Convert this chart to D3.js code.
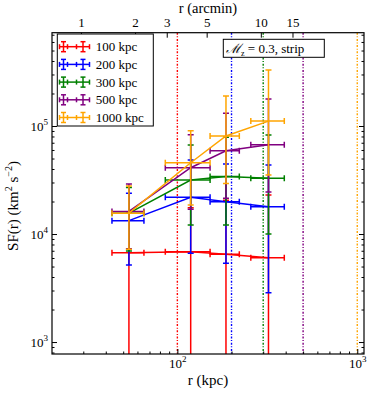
<!DOCTYPE html>
<html>
<head>
<meta charset="utf-8">
<script src="https://cdn.jsdelivr.net/npm/d3@7"></script>
<style>
  body { margin: 0; background: #fff; }
  text { font-family: "Liberation Serif", "DejaVu Serif", serif; }
</style>
</head>
<body>
<div id="chart"></div>
<script>
// series: outer radius of the region (kpc)
const labels = ["100 kpc", "200 kpc", "300 kpc", "500 kpc", "1000 kpc"];
const rCut = [100, 200, 300, 500, 1000];
const colors = ["red", "blue", "green", "purple", "orange"];

// separation bins (kpc)
const rMid = [53.8, 118.6, 186.3, 321];
const rLo = [43.3, 85.7, 152, 256];
const rHi = [65.2, 152, 221, 393];

// SF values and error bounds (km^2 s^-2), null = below the axis
const sf100 = [6710, 6860, 6490, 6040];
const hi100 = [15600, 17500, 20600, 23000];
const lo100 = [null, null, null, null];
const sf200 = [13300, 21900, 19900, 17900];
const hi200 = [23800, 48400, 44500, 43600];
const lo200 = [5160, 6630, 5360, 2860];
const sf300 = [15600, 31600, 34000, 32800];
const hi300 = [27000, 66700, 78600, 82600];
const lo300 = [6970, 12100, 12100, 10000];
const sf500 = [16200, 41100, 59000, 67100];
const hi500 = [29000, 83000, 131000, 178000];
const lo500 = [7310, 17000, 21400, 24500];
const sf1000 = [15600, 45700, 80800, 111000];
const hi1000 = [27800, 90400, 190000, 330000];
const lo1000 = [7220, 18600, 29400, 35200];

const topTicks = [1, 2, 3, 5, 10, 15]; // arcmin
const kpcPerArcmin = 29.1;

const series = [
  { sf: sf100, hi: hi100, lo: lo100 },
  { sf: sf200, hi: hi200, lo: lo200 },
  { sf: sf300, hi: hi300, lo: lo300 },
  { sf: sf500, hi: hi500, lo: lo500 },
  { sf: sf1000, hi: hi1000, lo: lo1000 }
];

const W = 374, H = 393;
const pl = 52, pr = 364, pt = 32.7, pb = 354;

const x = d3.scaleLog().domain([20.1, 1090]).range([pl, pr]);
const xTop = d3.scaleLog().domain([20.1 / kpcPerArcmin, 1090 / kpcPerArcmin]).range([pl, pr]);
const y = d3.scaleLog().domain([775, 731000]).range([pb, pt]);

const svg = d3.select("#chart").append("svg")
  .attr("width", W).attr("height", H);

svg.append("rect").attr("width", W).attr("height", H).attr("fill", "#fff");

svg.append("clipPath").attr("id", "clip")
  .append("rect")
  .attr("x", pl).attr("y", pt)
  .attr("width", pr - pl).attr("height", pb - pt);

const plot = svg.append("g").attr("clip-path", "url(#clip)");

// vertical marks at each region radius
plot.selectAll("line.cut")
  .data(rCut)
  .enter()
  .append("line")
  .attr("class", "cut")
  .attr("x1", d => x(d)).attr("x2", d => x(d))
  .attr("y1", pt).attr("y2", pb)
  .attr("stroke", (d, i) => colors[i])
  .attr("stroke-width", 1.4)
  .attr("stroke-dasharray", "2,1.6,1,1.6");

const cap = 3;
const yBottom = v => (v == null ? pb + 5 : y(v));

series.forEach((s, k) => {
  const g = plot.append("g").attr("stroke", colors[k]).attr("stroke-width", 1.5).attr("fill", "none");

  g.append("path")
    .datum(s.sf)
    .attr("d", d3.line().x((d, i) => x(rMid[i])).y(d => y(d)));

  s.sf.forEach((v, i) => {
    const cx = x(rMid[i]), cy = y(v);
    const yt = y(s.hi[i]), yb = yBottom(s.lo[i]);
    // vertical error bar
    g.append("line").attr("x1", cx).attr("x2", cx).attr("y1", yt).attr("y2", yb);
    g.append("line").attr("x1", cx - cap).attr("x2", cx + cap).attr("y1", yt).attr("y2", yt);
    g.append("line").attr("x1", cx - cap).attr("x2", cx + cap).attr("y1", yb).attr("y2", yb);
    // horizontal error bar
    const xl = x(rLo[i]), xr = x(rHi[i]);
    g.append("line").attr("x1", xl).attr("x2", xr).attr("y1", cy).attr("y2", cy);
    g.append("line").attr("x1", xl).attr("x2", xl).attr("y1", cy - cap).attr("y2", cy + cap);
    g.append("line").attr("x1", xr).attr("x2", xr).attr("y1", cy - cap).attr("y2", cy + cap);
  });
});

// axes
const majorX = [100, 1000];
const minorX = x.ticks().filter(d => !majorX.includes(d));
const majorY = [1000, 10000, 100000];
const minorY = y.ticks().filter(d => !majorY.includes(d));

function powLabel(sel) {
  sel.selectAll(".tick text").each(function (d) {
    const t = d3.select(this);
    t.text("10");
    t.append("tspan").attr("dy", -6).attr("font-size", 9).text(Math.round(Math.log10(d)));
  });
}

function styleAxis(g) {
  g.select(".domain").remove();
  g.selectAll(".tick line").attr("stroke", "#000").attr("stroke-width", 1);
  g.selectAll(".tick text").attr("fill", "#000").attr("font-size", 13)
    .style("font-family", "'Liberation Serif', serif");
}

svg.append("g")
  .attr("transform", `translate(0,${pb})`)
  .call(d3.axisBottom(x).tickValues(majorX).tickSize(-5).tickPadding(5))
  .call(styleAxis)
  .call(powLabel);
svg.append("g")
  .attr("transform", `translate(0,${pb})`)
  .call(d3.axisBottom(x).tickValues(minorX).tickSize(-2.5).tickFormat(""))
  .call(styleAxis);

svg.append("g")
  .attr("transform", `translate(${pl},0)`)
  .call(d3.axisLeft(y).tickValues(majorY).tickSize(-5).tickPadding(4))
  .call(styleAxis)
  .call(powLabel);
svg.append("g")
  .attr("transform", `translate(${pl},0)`)
  .call(d3.axisLeft(y).tickValues(minorY).tickSize(-2.5).tickFormat(""))
  .call(styleAxis);

svg.append("g")
  .attr("transform", `translate(${pr},0)`)
  .call(d3.axisRight(y).tickValues(majorY).tickSize(-5).tickFormat(""))
  .call(styleAxis);
svg.append("g")
  .attr("transform", `translate(${pr},0)`)
  .call(d3.axisRight(y).tickValues(minorY).tickSize(-2.5).tickFormat(""))
  .call(styleAxis);

svg.append("g")
  .attr("transform", `translate(0,${pt})`)
  .call(d3.axisTop(xTop).tickValues(topTicks).tickSize(-5).tickPadding(6).tickFormat(d3.format("d")))
  .call(styleAxis);

svg.append("rect")
  .attr("x", pl).attr("y", pt)
  .attr("width", pr - pl).attr("height", pb - pt)
  .attr("fill", "none").attr("stroke", "#000").attr("stroke-width", 1.2);

// axis titles
svg.append("text")
  .attr("x", (pl + pr) / 2).attr("y", 385)
  .attr("text-anchor", "middle").attr("font-size", 15)
  .text("r (kpc)");

svg.append("text")
  .attr("x", (pl + pr) / 2).attr("y", 12.5)
  .attr("text-anchor", "middle").attr("font-size", 14.5)
  .text("r (arcmin)");

const yl = svg.append("text")
  .attr("transform", "translate(18,206) rotate(-90)")
  .attr("text-anchor", "middle").attr("font-size", 15);
yl.append("tspan").text("SF(r) (km");
yl.append("tspan").attr("dy", -6).attr("font-size", 10).text("2");
yl.append("tspan").attr("dy", 6).text(" s");
yl.append("tspan").attr("dy", -6).attr("font-size", 10).text("\u22122");
yl.append("tspan").attr("dy", 6).text(")");

// legend
const legend = svg.append("g").attr("id", "legend");
legend.append("rect")
  .attr("x", 57.3).attr("y", 34).attr("width", 96).attr("height", 92)
  .attr("fill", "#fff").attr("stroke", "#000").attr("stroke-width", 1);

const item = legend.selectAll("g.item")
  .data(labels)
  .enter()
  .append("g")
  .attr("class", "item")
  .attr("transform", (d, i) => `translate(0,${46.7 + i * 17.7})`);

item.each(function (d, i) {
  const g = d3.select(this).append("g")
    .attr("stroke", colors[i]).attr("stroke-width", 1.5);
  g.append("line").attr("x1", 59.5).attr("x2", 89.5).attr("y1", 0).attr("y2", 0);
  [[63.5, 59.5, 67.5], [83, 76.5, 89.5]].forEach(([c, a, b]) => {
    g.append("line").attr("x1", c).attr("x2", c).attr("y1", -5).attr("y2", 5);
    g.append("line").attr("x1", c - 2.5).attr("x2", c + 2.5).attr("y1", -5).attr("y2", -5);
    g.append("line").attr("x1", c - 2.5).attr("x2", c + 2.5).attr("y1", 5).attr("y2", 5);
    g.append("line").attr("x1", a).attr("x2", a).attr("y1", -2.5).attr("y2", 2.5);
    g.append("line").attr("x1", b).attr("x2", b).attr("y1", -2.5).attr("y2", 2.5);
  });
});

item.append("text")
  .attr("x", 95.7).attr("y", 4.5)
  .attr("font-size", 13)
  .text(d => d);

// annotation box
svg.append("rect")
  .attr("x", 223.3).attr("y", 39.3).attr("width", 101).attr("height", 18)
  .attr("fill", "#fff").attr("stroke", "#000").attr("stroke-width", 1);

const note = svg.append("text")
  .attr("x", 226).attr("y", 52.5).attr("font-size", 13);
note.append("tspan").style("font-style", "italic").text("\u2133");
note.append("tspan").attr("dy", 3).attr("font-size", 8).text("z");
note.append("tspan").attr("dy", -3).text(" = 0.3, strip");
</script>
</body>
</html>
